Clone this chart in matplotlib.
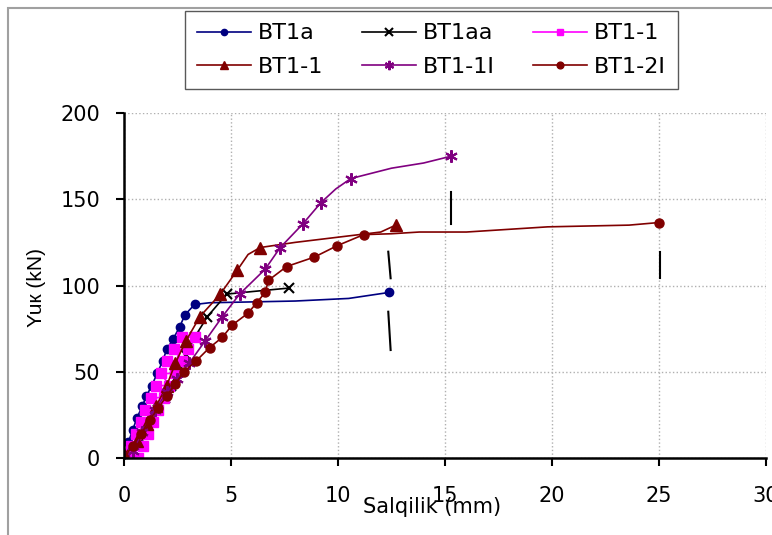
import matplotlib
matplotlib.use("Agg")
import matplotlib.pyplot as plt
from matplotlib.patches import Rectangle

plt.rcParams['font.family'] = ['DejaVu Sans']

# BT1a
bt1a_x = [0, 0.2, 0.4, 0.6, 0.85, 1.05, 1.3, 1.55, 1.8, 2.0, 2.3, 2.6, 2.85, 3.3, 4.0, 8.0, 10.5, 12.4]
bt1a_y = [0, 9, 16, 23, 30, 36, 42, 49, 56, 63, 69, 76, 83, 89, 90, 91, 92.5, 96]
bt1a_mark = [0, 1, 2, 3, 4, 5, 6, 7, 8, 9, 10, 11, 12, 13, 17]

# BT1aa
bt1aa_x = [0.4, 0.7, 1.0, 1.3, 1.6, 1.9, 2.2, 2.5, 2.9, 3.3, 3.9, 4.8, 6.0, 7.7]
bt1aa_y = [0, 7, 14, 21, 28, 35, 42, 50, 60, 70, 82, 95, 96.5, 98.5]
bt1aa_mark = [0, 1, 2, 3, 4, 5, 6, 7, 8, 9, 10, 11, 13]

# BT1-1 (squares) - load steps
bt11_lvl = [0, 7, 14, 21, 28, 35, 42, 49, 56, 63, 70]
bt11_left = [0.15, 0.35, 0.55, 0.8, 1.0, 1.25, 1.5, 1.75, 2.0, 2.35, 2.7]
bt11_right = [0.65, 0.9, 1.1, 1.35, 1.6, 1.85, 2.1, 2.4, 2.7, 3.0, 3.3]

# BT1-1 (triangles)
bt11t_x = [0, 0.6, 1.07, 1.5, 2.0, 2.4, 2.9, 3.55, 4.5, 5.3, 5.8, 6.36, 8.0, 10.0, 12.0, 12.7]
bt11t_y = [2, 10, 20, 30, 42, 55, 68, 82, 95, 109, 118, 122, 125, 128, 131, 135]
bt11t_mark = [0, 1, 2, 3, 4, 5, 6, 7, 8, 9, 11, 15]

# BT1-1I
bt11i_x = [0, 0.4, 0.85, 1.45, 2.0, 2.5, 3.05, 3.8, 4.6, 5.4, 6.6, 7.3, 8.35, 9.2, 9.9, 10.6, 12.5, 14.0, 15.3]
bt11i_y = [0, 4, 15, 28, 38, 46, 55, 68, 82, 95, 109.5, 122, 135.6, 148, 156, 162, 168, 171, 175]
bt11i_mark = [0, 1, 2, 3, 4, 5, 6, 7, 8, 9, 10, 11, 12, 13, 15, 18]

# BT1-2I
bt12i_x = [0, 0.4, 0.8, 1.2, 1.6, 2.0, 2.4, 2.8, 3.35, 4.0, 4.6, 5.05, 5.8, 6.2, 6.6, 6.75, 7.6, 8.9, 9.95,
           11.2, 12.5, 13.8, 16.0, 19.8, 23.6, 25.0]
bt12i_y = [0, 7, 14, 22, 29, 36, 43, 50, 56, 64, 70, 77, 84, 90, 96, 103, 111, 116.5, 123,
           129.5, 130, 131, 131, 134, 135, 136.5]
bt12i_mark = [0, 1, 2, 3, 4, 5, 6, 7, 8, 9, 10, 11, 12, 13, 14, 15, 16, 17, 18, 19, 25]

# black marks drawn on the chart
dash_x = [(15.26, 15.26), (12.35, 12.46), (12.35, 12.46), (25.05, 25.05)]
dash_y = [(154.4, 135.6), (119.6, 104.2), (84.8, 62.6), (119.6, 104.2)]

fig = plt.figure(figsize=(7.72, 5.35), dpi=100)
ax = fig.add_axes([0.1606, 0.1439, 0.8316, 0.6449])

fig.patches.append(Rectangle((8 / 772, -0.05), 1.2, 1 - 8 / 535 + 0.05, transform=fig.transFigure,
                             fill=False, edgecolor='#a0a0a0', linewidth=1.5))

h_a, = ax.plot(bt1a_x, bt1a_y, color='#000080', lw=1.2, marker='o', ms=6, markevery=bt1a_mark, label='BT1a')
h_aa, = ax.plot(bt1aa_x, bt1aa_y, color='black', lw=1.2, marker='x', ms=7.5, mew=1.5, markevery=bt1aa_mark, label='BT1aa')

sq_x, sq_y = [], []
for lv, l, r in zip(bt11_lvl, bt11_left, bt11_right):
    sq_x += [l, r]
    sq_y += [lv, lv]
h_sq, = ax.plot(sq_x, sq_y, color='#ff00ff', lw=1.2, marker='s', ms=6.5, label='BT1-1')
h_t, = ax.plot(bt11t_x, bt11t_y, color='#800000', lw=1.2, marker='^', ms=8, markevery=bt11t_mark, label='BT1-1')
h_i, = ax.plot(bt11i_x, bt11i_y, color='#800080', lw=1.2, marker=(6, 2, 0), ms=9, mew=1.5, markevery=bt11i_mark, label='BT1-1I')
h_2, = ax.plot(bt12i_x, bt12i_y, color='#800000', lw=1.2, marker='o', ms=6.5, markevery=bt12i_mark, label='BT1-2I')

for dx, dy in zip(dash_x, dash_y):
    ax.plot(dx, dy, color='black', lw=1.5)

ax.set_xlim(0, 30)
ax.set_ylim(0, 200)
ax.set_xticks(range(0, 31, 5))
ax.set_yticks(range(0, 201, 50))
ax.grid(True, color='#b0b0b0', linestyle=':', linewidth=1)
ax.set_axisbelow(True)
for s in ['top', 'right']:
    ax.spines[s].set_visible(False)
for s in ['left', 'bottom']:
    ax.spines[s].set_linewidth(1.8)
ax.tick_params(axis='x', direction='out', length=6, width=1.5, pad=14, labelsize=15)
ax.tick_params(axis='y', direction='out', length=6, width=1.5, pad=11, labelsize=15)

ax.set_xlabel('Salqilik (mm)', fontsize=15)
ax.xaxis.set_label_coords(0.48, -0.142)
ax.xaxis.label.set_va('center')
ax.set_ylabel('Yuк (kN)', fontsize=15, family=['Liberation Sans', 'DejaVu Sans'])
ax.yaxis.set_label_coords(-0.1355, 0.493)
ax.yaxis.label.set_va('center')

handles = [h_a, h_t, h_aa, h_i, h_sq, h_2]
leg = fig.legend(handles=handles, labels=[h.get_label() for h in handles], ncol=3,
                 loc='center', bbox_to_anchor=(431.5 / 772, 1 - 50 / 535), fontsize=16, frameon=True,
                 fancybox=False, edgecolor='#303030', handlelength=2.43, columnspacing=1.75,
                 borderpad=0.55, labelspacing=0.6, handletextpad=0.3, markerscale=0.75)
leg.get_frame().set_linewidth(1.0)

fig.savefig('out.png', dpi=100)
